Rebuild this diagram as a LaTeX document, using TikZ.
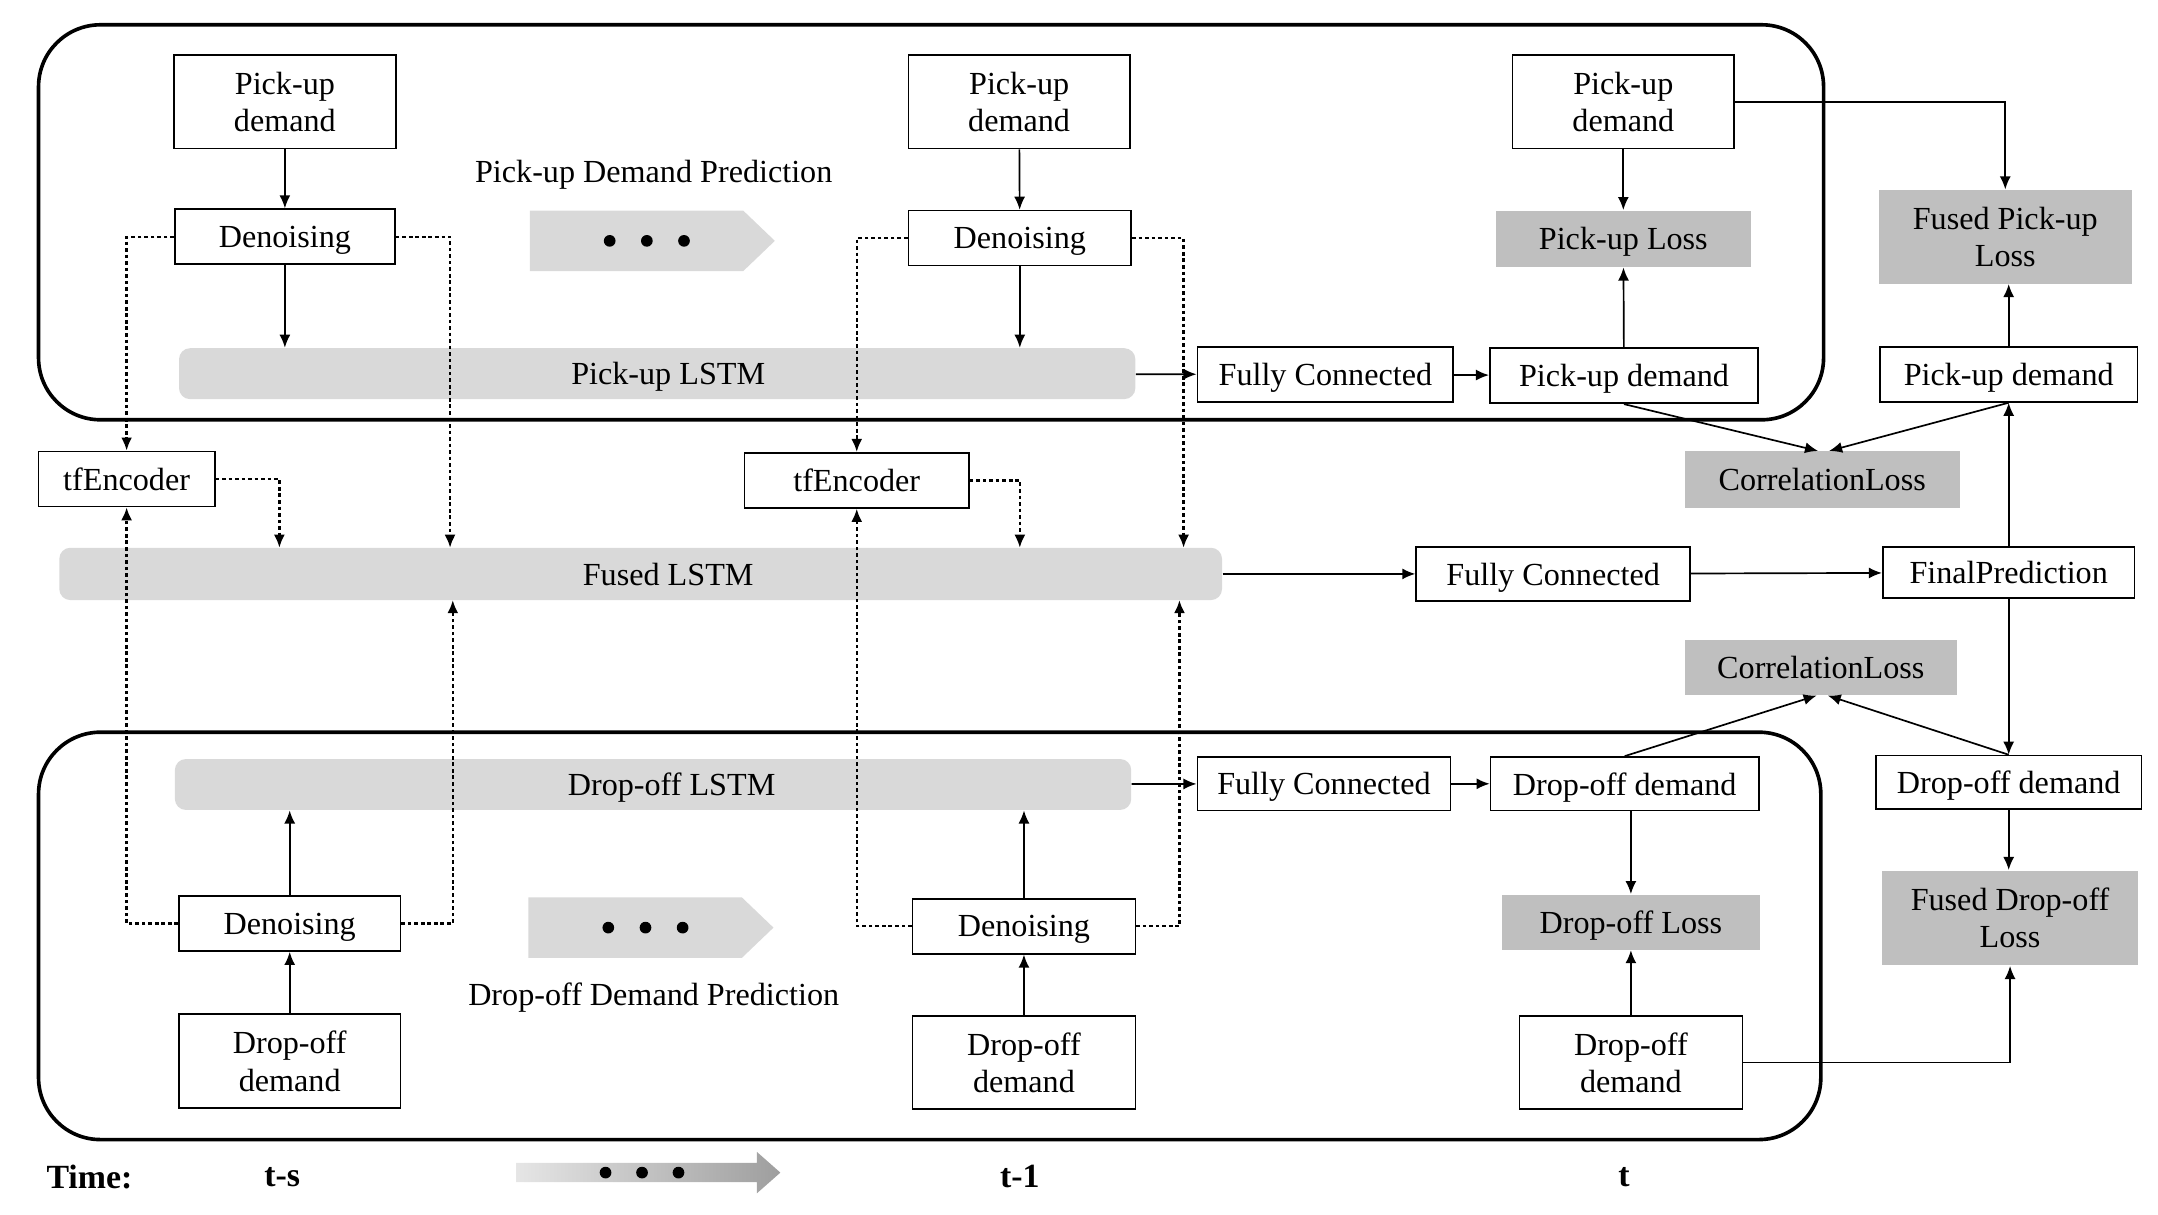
\documentclass[tikz,border=0pt]{standalone}
\usepackage{fontspec}
\setmainfont{Liberation Serif}
\usepackage{tikz}
\usetikzlibrary{arrows.meta,calc,positioning}
\tikzset{
	box/.style={draw, line width=0.7pt, fill=white, inner sep=1pt, align=center, text depth=0pt},
	lossbox/.style={fill=black!25, inner sep=1pt, align=center, text depth=0pt},
	bar/.style={fill=black!15, rounded corners=0.16cm},
	arr/.style={line width=0.7pt, -{Latex[length=1.9mm,width=1.6mm]}},
	dotarr/.style={line width=1pt, dash pattern=on 1.5pt off 1.2pt, -{Latex[length=1.9mm,width=1.6mm]}},
	frame/.style={line width=1.5pt, rounded corners=0.9cm},
	timelabel/.style={font=\fontsize{14}{16}\selectfont\bfseries},
}
\newcommand{\dotchevron}[2]{
	\fill[black!15] (#1,#2-22) --
	++(155,0) --
	++(23,22) --
	++(-23,22) --
	++(-155,0) --
	cycle;
	\foreach \k in {0,1,2}
		\fill (#1+58+27*\k,#2) circle[radius=0.085cm];
	}

\begin{document}
\begin{tikzpicture}[x=0.02cm, y=-0.02cm, font=\fontsize{13.3}{15.4}\selectfont]

	\useasboundingbox (0,0) rectangle (1568,882.1);

	% two groups
	\draw[frame] (28,18) rectangle (1325,305);
	\draw[frame] (28,532) rectangle (1323,828);

	% pick-up side
	\node[box, minimum width=3.22cm, minimum height=1.36cm] (pu1) at (207,74) {Pick-up\\demand};
	\node[box, minimum width=3.2cm, minimum height=0.8cm] (dn1) at (207,172) {Denoising};
	\node[box, minimum width=3.22cm, minimum height=1.36cm] (pu2) at (740.5,74) {Pick-up\\demand};
	\node[box, minimum width=3.24cm, minimum height=0.8cm] (dn2) at (741,173) {Denoising};
	\node[bar, minimum width=13.9cm, minimum height=0.74cm, label={[xshift=0.16cm, text depth=0pt]center:Pick-up LSTM}] (pulstm) at (477.5,271.5) {};
	\node (putitle) at (475,127) {Pick-up Demand Prediction};
	\dotchevron{385}{175}

	% fused part
	\node[box, minimum width=2.56cm, minimum height=0.8cm] (tf1) at (92,348) {tfEncoder};
	\node[box, minimum width=3.26cm, minimum height=0.8cm] (tf2) at (622.5,349) {tfEncoder};
	\node[bar, minimum width=16.9cm, minimum height=0.76cm, label={[xshift=0.4cm, text depth=0pt]center:Fused LSTM}] (fused) at (465.5,417) {};
	\coordinate (fin1) at (203,398);
	\coordinate (fin2) at (327,398);
	\coordinate (fin3) at (741,398);
	\coordinate (fin4) at (860,398);
	\coordinate (fout1) at (329,436);
	\coordinate (fout2) at (857,436);

	% drop-off side
	\node[bar, minimum width=13.9cm, minimum height=0.74cm, label={[xshift=0.27cm, text depth=0pt]center:Drop-off LSTM}] (dolstm) at (474.5,570) {};
	\node[box, minimum width=3.22cm, minimum height=0.8cm] (dn1b) at (210.5,671) {Denoising};
	\node[box, minimum width=3.22cm, minimum height=1.36cm] (do1) at (210.5,771) {Drop-off\\demand};
	\node[box, minimum width=3.24cm, minimum height=0.8cm] (dn2b) at (744,673) {Denoising};
	\node[box, minimum width=3.24cm, minimum height=1.36cm] (do2) at (744,772) {Drop-off\\demand};
	\node (dotitle) at (475,725) {Drop-off Demand Prediction};
	\dotchevron{384}{674}

	% time t
	\node[box, minimum width=3.22cm, minimum height=1.36cm] (pu3) at (1179.5,74) {Pick-up\\demand};
	\node[lossbox, minimum width=3.7cm, minimum height=0.82cm] (puloss) at (1179.5,173.5) {Pick-up Loss};
	\node[box, minimum width=3.72cm, minimum height=0.8cm] (fc1) at (963,272) {Fully Connected};
	\node[box, minimum width=3.9cm, minimum height=0.8cm] (pud) at (1180,273) {Pick-up demand};
	\node[lossbox, minimum width=4cm, minimum height=0.82cm] (corr1) at (1324,348.5) {CorrelationLoss};
	\node[box, minimum width=3.98cm, minimum height=0.78cm] (fc2) at (1128.5,417) {Fully Connected};
	\node[box, minimum width=3.66cm, minimum height=0.74cm] (final) at (1459.5,416) {FinalPrediction};
	\node[box, minimum width=3.74cm, minimum height=0.8cm] (pur) at (1459.5,272) {Pick-up demand};
	\node[lossbox, minimum width=3.68cm, minimum height=1.36cm] (fpuloss) at (1457,172) {Fused Pick-up\\Loss};
	\node[lossbox, minimum width=3.96cm, minimum height=0.8cm] (corr2) at (1323,485) {CorrelationLoss};
	\node[box, minimum width=3.86cm, minimum height=0.78cm] (dor) at (1459.5,568.5) {Drop-off demand};
	\node[box, minimum width=3.68cm, minimum height=0.78cm] (fc3) at (962,569.5) {Fully Connected};
	\node[box, minimum width=3.9cm, minimum height=0.78cm] (dod) at (1180.5,569.5) {Drop-off demand};
	\node[lossbox, minimum width=3.74cm, minimum height=0.8cm] (doloss) at (1185,670) {Drop-off Loss};
	\node[box, minimum width=3.24cm, minimum height=1.36cm] (dot) at (1185,772) {Drop-off\\demand};
	\node[lossbox, minimum width=3.72cm, minimum height=1.38cm] (fdoloss) at (1460.5,667) {Fused Drop-off\\Loss};

	% solid connectors
	\draw[arr] (pu1) -- (dn1);
	\draw[arr] (dn1.south) -- (dn1.south |- pulstm.north);
	\draw[arr] (pu2) -- (dn2);
	\draw[arr] (dn2.south) -- (dn2.south |- pulstm.north);
	\draw[arr] (do1) -- (dn1b);
	\draw[arr] (dn1b.north) -- (dn1b.north |- dolstm.south);
	\draw[arr] (do2) -- (dn2b);
	\draw[arr] (dn2b.north) -- (dn2b.north |- dolstm.south);

	\draw[arr] (pulstm) -- (fc1);
	\draw[arr] (fc1) -- (pud);
	\draw[arr] (pu3) -- (puloss);
	\draw[arr] (pud) -- (puloss);
	\draw[arr] (pu3.east) -| (fpuloss.north);
	\draw[arr] (pud.south) -- ([xshift=-0.06cm]corr1.north);
	\draw[arr] (pur.south) -- ([xshift=0.1cm]corr1.north);
	\draw[arr] (pur.north) -- (pur.north |- fpuloss.south);

	\draw[arr] (fused) -- (fc2);
	\draw[arr] (fc2) -- (final);
	\draw[arr] (final) -- (pur);
	\draw[arr] (final) -- (dor);

	\draw[arr] (dolstm) -- (fc3);
	\draw[arr] (fc3) -- (dod);
	\draw[arr] (dod.north) -- ([xshift=-0.06cm]corr2.south);
	\draw[arr] (dor.north) -- ([xshift=0.1cm]corr2.south);
	\draw[arr] (dod.south -| doloss.north) -- (doloss.north);
	\draw[arr] (dot) -- (doloss);
	\draw[arr] (dot.east) -| (fdoloss.south);
	\draw[arr] (dor.south) -- (dor.south |- fdoloss.north);

	% dotted connectors
	\draw[dotarr] (dn1.west) -| (tf1.north);
	\draw[dotarr] (dn1.east) -| (fin2);
	\draw[dotarr] (tf1.east) -| (fin1);
	\draw[dotarr] (dn1b.west) -| (tf1.south);
	\draw[dotarr] (dn1b.east) -| (fout1);
	\draw[dotarr] (dn2.west) -| (tf2.north);
	\draw[dotarr] (dn2.east) -| (fin4);
	\draw[dotarr] (tf2.east) -| (fin3);
	\draw[dotarr] (dn2b.west) -| (tf2.south);
	\draw[dotarr] (dn2b.east) -| (fout2);

	% time axis
	\node[timelabel] (time) at (65,855) {Time:};
	\node[timelabel] (ts) at (205,855) {t-s};
	\node[timelabel] (t1) at (741,855) {t-1};
	\node[timelabel] (t0) at (1180,855) {t};
	\shade[left color=black!10, right color=black!38] (375,845) -- (550,845) -- (550,837) -- (567,852) -- (550,867) -- (550,859) -- (375,859) -- cycle;
	\foreach \k in {0,1,2}
		\fill (440+26.5*\k,852) circle[radius=0.085cm];

\end{tikzpicture}
\end{document}
